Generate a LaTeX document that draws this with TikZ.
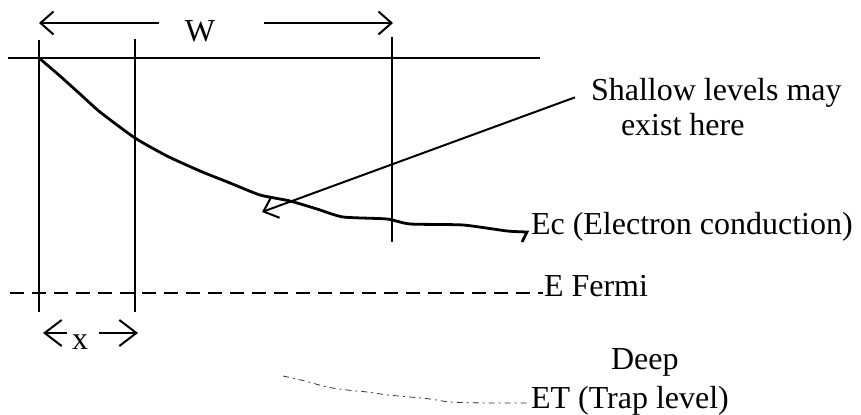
\documentclass[tikz,border=0pt]{standalone}
\usepackage{fontspec}
\setmainfont{Liberation Serif}
\usetikzlibrary{arrows.meta}

\tikzset{
  band/.style={line width=1.4pt},
  guide/.style={line width=0.8pt},
  bigtip/.style={-{Straight Barb[length=8.5pt,width=13pt]}},
}

\begin{document}
\begin{tikzpicture}[x=0.5pt, y=-0.5pt, line width=1pt, >={Straight Barb[length=6.5pt,width=11.5pt]}, every node/.style={inner sep=0pt, font=\fontsize{16}{19}\selectfont}]
				\useasboundingbox (0,0) rectangle (861,415);
				
				% 1. horizontal top line and vertical guides
				\draw (8,58) -- (540,58);
				\draw[guide] (39,40) -- (39,312);
				\draw[guide] (135,39) -- (135,312);
				\draw[guide] (392,37) -- (392,242);
				
				% 2. width W
				\coordinate (wl) at (39,23);
				\coordinate (wr) at (393,23);
				\node (w) at (200,31) {W};
				\draw[->, shorten <=12.5pt] (w.west |- wl) -- (wl);
				\draw[->, shorten <=24pt] (w.east |- wr) -- (wr);
				
				% 3. conduction band edge Ec
				\node[anchor=base west] (ec) at (530,235) {Ec (Electron conduction)};
				\draw[band] plot[smooth, tension=0.35] coordinates {(39,58) (60,76) (80,94) (100,112) (135,138) (167,156) (200,171) (230,183) (260,195) (290,201) (317,209) (343,217) (387,219) (410,224) (463,225) (507,231) (527,232)} -- (522,242);
				
				% 4. Fermi level
				\coordinate (fl) at (10,293);
				\node[anchor=base west] (fermi) at (543,297) {E Fermi};
				\draw[guide, dash pattern=on 7pt off 4pt] (fl) -- (fl -| fermi.west);
				
				% 5. distance x
				\coordinate (xl) at (43,333);
				\coordinate (xr) at (138,333);
				\node (x) at (80,342) {x};
				\draw[bigtip, shorten <=2pt] (x.west |- xl) -- (xl);
				\draw[bigtip, shorten <=5pt] (x.east |- xr) -- (xr);
				
				% 6. shallow levels
				\node[anchor=base west] (shallow) at (590,101) {Shallow levels may};
				\node[anchor=base west] (exist) at (620,136) {exist here};
				\coordinate (tip) at (262,212);
				\draw[->] ([shift={(-15,4)}]shallow.west) -- (tip);
				
				% 7. deep trap level
				\node[anchor=base west] (deep) at (610,370) {Deep};
				\node[anchor=base west] (et) at (530,409) {ET (Trap level)};
				\coordinate (etl) at (0,403);
				\draw[dash dot, thin, black!80] plot[smooth] coordinates {(283,376) (305,381) (327,387) (347,390) (367,392) (388,395) (410,397) (430,399) (450,402) (483,403)} -- ([xshift=-1pt]et.west |- etl);
			\end{tikzpicture}
\end{document}
